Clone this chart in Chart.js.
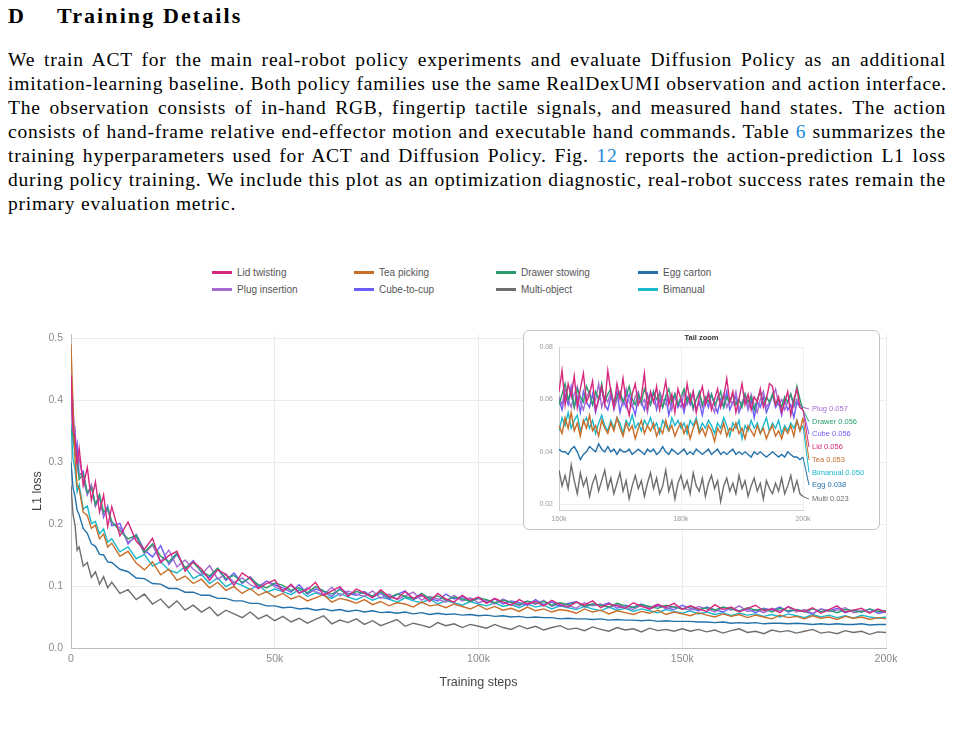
<!DOCTYPE html>
<html>
<head>
    <meta charset="utf-8">
    <title>Training Details</title>
    <script src="https://cdn.jsdelivr.net/npm/chart.js"></script>
    <style>
        body {
            margin: 0;
            width: 956px;
            height: 752px;
            position: relative;
            overflow: hidden;
            background: #fff;
        }
        h2 {
            position: absolute;
            left: 8px;
            top: 3px;
            margin: 0;
            font: bold 22px/26px "Liberation Serif", serif;
            color: #000;
        }
        h2 .t {
            position: absolute;
            left: 49px;
            white-space: nowrap;
            letter-spacing: 2.1px;
        }
        .para {
            position: absolute;
            left: 8px;
            top: 48px;
            width: 938px;
            font: 19.5px/24px "Liberation Serif", serif;
            letter-spacing: 0.8px;
            color: #000;
        }
        .para div {
            white-space: nowrap;
            text-align: justify;
            text-align-last: justify;
        }
        .para div.last {
            text-align-last: left;
        }
        .para a {
            color: #1c8ad8;
            text-decoration: none;
        }
        .legend {
            position: absolute;
            left: 212px;
            top: 264px;
            display: grid;
            grid-template-columns: repeat(4, 142px);
            font: 10px "Liberation Sans", Arial, sans-serif;
            color: #555;
        }
        .legend span.item {
            display: flex;
            align-items: center;
            height: 17px;
        }
        .legend i {
            display: inline-block;
            width: 20px;
            height: 3px;
            margin-right: 5px;
        }
        .main {
            position: absolute;
            left: 0;
            top: 320px;
        }
        .inset {
            position: absolute;
            left: 523px;
            top: 330px;
            width: 357px;
            height: 200px;
            box-sizing: border-box;
            border: 1px solid #c4c4c4;
            border-radius: 6px;
            background: #fff;
        }
        .inset .title {
            position: absolute;
            left: 0;
            right: 0;
            top: 2px;
            text-align: center;
            font: bold 7.5px "Liberation Sans", Arial, sans-serif;
            color: #333;
        }
        .inset canvas {
            position: absolute;
            left: 0;
            top: 0;
        }
    </style>
</head>
<body>
    <h2><span>D</span><span class="t">Training Details</span></h2>
    <div class="para">
        <div>We train ACT for the main real-robot policy experiments and evaluate Diffusion Policy as an additional</div>
        <div>imitation-learning baseline. Both policy families use the same RealDexUMI observation and action interface.</div>
        <div>The observation consists of in-hand RGB, fingertip tactile signals, and measured hand states. The action</div>
        <div>consists of hand-frame relative end-effector motion and executable hand commands. Table <a>6</a> summarizes the</div>
        <div>training hyperparameters used for ACT and Diffusion Policy. Fig. <a>12</a> reports the action-prediction L1 loss</div>
        <div>during policy training. We include this plot as an optimization diagnostic, real-robot success rates remain the</div>
        <div class="last">primary evaluation metric.</div>
    </div>

    <div class="legend" id="legend"></div>

    <canvas class="main" id="lossChart" width="956" height="380"></canvas>

    <div class="inset">
        <div class="title">Tail zoom</div>
        <canvas id="tailChart" width="355" height="198"></canvas>
    </div>

    <script>
        // 训练步数 (主图)
        const steps = [0, 500, 1000, 1500, 2000, 3000, 4000, 5000, 6000, 7000, 8000, 9000, 10000,
            12000, 14000, 16000, 18000, 20000, 22000, 24000, 26000, 28000, 30000, 32000, 34000, 36000, 38000, 40000, 42000, 44000, 46000, 48000, 50000,
            52000, 54000, 56000, 58000, 60000, 62000, 64000, 66000, 68000, 70000,
            72000, 74000, 76000, 78000, 80000, 82000, 84000, 86000, 88000, 90000, 92000, 94000, 96000, 98000, 100000,
            102000, 104000, 106000, 108000, 110000, 112000, 114000, 116000, 118000, 120000, 122000, 124000, 126000, 128000, 130000,
            132000, 134000, 136000, 138000, 140000, 142000, 144000, 146000, 148000, 150000,
            152000, 154000, 156000, 158000, 160000, 162000, 164000, 166000, 168000, 170000, 172000, 174000, 176000, 178000, 180000,
            182000, 184000, 186000, 188000, 190000, 192000, 194000, 196000, 198000, 200000];

        const lidTwisting = [0.440, 0.352, 0.341, 0.296, 0.322, 0.262, 0.291, 0.238, 0.268, 0.219, 0.247, 0.196, 0.228,
            0.181, 0.203, 0.172, 0.159, 0.177, 0.138, 0.149, 0.156, 0.124, 0.139, 0.128, 0.109, 0.126, 0.119, 0.101, 0.121, 0.112, 0.096, 0.104, 0.110,
            0.091, 0.103, 0.089, 0.094, 0.106, 0.085, 0.092, 0.099, 0.083, 0.095,
            0.089, 0.081, 0.094, 0.083, 0.079, 0.091, 0.080, 0.086, 0.075, 0.088, 0.079, 0.074, 0.085, 0.077, 0.082,
            0.072, 0.080, 0.074, 0.069, 0.078, 0.071, 0.075, 0.068, 0.077, 0.070, 0.066, 0.074, 0.069, 0.076, 0.065, 0.071, 0.068, 0.064, 0.073, 0.067, 0.063, 0.070, 0.066, 0.072, 0.062,
            0.068, 0.063, 0.059, 0.070, 0.062, 0.066, 0.058, 0.064, 0.069, 0.060, 0.063, 0.057, 0.067, 0.061, 0.059, 0.065, 0.056, 0.062, 0.068, 0.058, 0.061, 0.064, 0.056, 0.063, 0.058];

        const teaPicking = [0.490, 0.388, 0.305, 0.262, 0.257, 0.219, 0.214, 0.193, 0.198, 0.176, 0.184, 0.163, 0.169,
            0.148, 0.156, 0.137, 0.126, 0.139, 0.118, 0.127, 0.109, 0.116, 0.104, 0.111, 0.097, 0.106, 0.093, 0.099, 0.088, 0.096, 0.085, 0.091, 0.082,
            0.088, 0.079, 0.084, 0.076, 0.081, 0.086, 0.074, 0.080, 0.077, 0.072,
            0.078, 0.070, 0.075, 0.068, 0.073, 0.071, 0.066, 0.074, 0.068, 0.070, 0.065, 0.071, 0.067, 0.063, 0.069,
            0.062, 0.067, 0.061, 0.064, 0.059, 0.066, 0.060, 0.063, 0.058, 0.062, 0.060, 0.056, 0.063, 0.058, 0.061, 0.055, 0.060, 0.057, 0.054, 0.059, 0.056, 0.061, 0.054, 0.058, 0.055,
            0.052, 0.057, 0.053, 0.050, 0.055, 0.051, 0.054, 0.049, 0.053, 0.050, 0.047, 0.053, 0.049, 0.051, 0.047, 0.052, 0.048, 0.050, 0.046, 0.051, 0.048, 0.050, 0.046, 0.049, 0.047];

        const drawerStowing = [0.352, 0.341, 0.312, 0.305, 0.272, 0.281, 0.251, 0.259, 0.232, 0.248, 0.219, 0.226, 0.204,
            0.189, 0.176, 0.182, 0.154, 0.168, 0.148, 0.139, 0.153, 0.129, 0.138, 0.124, 0.116, 0.129, 0.112, 0.117, 0.106, 0.113, 0.102, 0.097, 0.105,
            0.101, 0.093, 0.097, 0.089, 0.099, 0.092, 0.087, 0.094, 0.085, 0.091,
            0.088, 0.084, 0.091, 0.081, 0.087, 0.083, 0.079, 0.088, 0.080, 0.084, 0.077, 0.082, 0.079, 0.075, 0.081,
            0.078, 0.073, 0.077, 0.074, 0.070, 0.076, 0.072, 0.075, 0.069, 0.073, 0.070, 0.074, 0.067, 0.071, 0.069, 0.066, 0.072, 0.068, 0.065, 0.070, 0.067, 0.064, 0.069, 0.066, 0.063,
            0.067, 0.062, 0.065, 0.061, 0.066, 0.063, 0.059, 0.065, 0.061, 0.063, 0.058, 0.064, 0.060, 0.062, 0.058, 0.063, 0.059, 0.061, 0.057, 0.062, 0.060, 0.058, 0.063, 0.059, 0.060];

        const eggCarton = [0.300, 0.258, 0.244, 0.222, 0.215, 0.193, 0.185, 0.168, 0.164, 0.151, 0.150, 0.139, 0.138,
            0.127, 0.123, 0.113, 0.112, 0.104, 0.103, 0.096, 0.096, 0.090, 0.090, 0.085, 0.085, 0.080, 0.080, 0.076, 0.076, 0.072, 0.072, 0.068, 0.068,
            0.065, 0.066, 0.063, 0.064, 0.061, 0.063, 0.060, 0.062, 0.059, 0.061,
            0.058, 0.060, 0.057, 0.058, 0.056, 0.058, 0.055, 0.057, 0.054, 0.056, 0.054, 0.055, 0.053, 0.054, 0.052,
            0.053, 0.051, 0.052, 0.050, 0.051, 0.049, 0.050, 0.049, 0.049, 0.047, 0.048, 0.047, 0.047, 0.046, 0.047, 0.045, 0.046, 0.045, 0.045, 0.044, 0.045, 0.043, 0.044, 0.043, 0.043,
            0.043, 0.042, 0.042, 0.041, 0.042, 0.040, 0.041, 0.040, 0.041, 0.039, 0.040, 0.040, 0.039, 0.040, 0.039, 0.038, 0.039, 0.038, 0.039, 0.038, 0.038, 0.039, 0.037, 0.038, 0.038];

        const plugInsertion = [0.405, 0.338, 0.352, 0.287, 0.306, 0.271, 0.248, 0.263, 0.229, 0.242, 0.214, 0.223, 0.201,
            0.194, 0.171, 0.179, 0.152, 0.166, 0.139, 0.158, 0.131, 0.142, 0.127, 0.118, 0.133, 0.111, 0.119, 0.106, 0.113, 0.102, 0.096, 0.108, 0.099,
            0.093, 0.101, 0.088, 0.097, 0.091, 0.086, 0.098, 0.084, 0.092, 0.087,
            0.083, 0.092, 0.080, 0.087, 0.078, 0.084, 0.090, 0.077, 0.083, 0.079, 0.074, 0.085, 0.076, 0.081, 0.073,
            0.077, 0.071, 0.079, 0.073, 0.068, 0.075, 0.070, 0.077, 0.067, 0.072, 0.069, 0.064, 0.073, 0.068, 0.071, 0.065, 0.070, 0.066, 0.062, 0.069, 0.065, 0.071, 0.063, 0.067, 0.064,
            0.061, 0.067, 0.063, 0.058, 0.065, 0.061, 0.068, 0.059, 0.062, 0.057, 0.064, 0.060, 0.066, 0.058, 0.062, 0.056, 0.063, 0.059, 0.061, 0.065, 0.057, 0.060, 0.058, 0.062, 0.057];

        const cubeToCup = [0.440, 0.392, 0.318, 0.331, 0.278, 0.285, 0.247, 0.262, 0.229, 0.246, 0.211, 0.229, 0.197,
            0.201, 0.168, 0.183, 0.158, 0.147, 0.165, 0.135, 0.151, 0.128, 0.141, 0.122, 0.113, 0.128, 0.109, 0.121, 0.104, 0.115, 0.099, 0.108, 0.102,
            0.097, 0.090, 0.102, 0.087, 0.095, 0.091, 0.083, 0.096, 0.088, 0.085,
            0.091, 0.082, 0.088, 0.079, 0.086, 0.092, 0.078, 0.084, 0.080, 0.076, 0.087, 0.079, 0.083, 0.075, 0.080,
            0.074, 0.079, 0.071, 0.076, 0.073, 0.069, 0.078, 0.070, 0.074, 0.067, 0.072, 0.075, 0.066, 0.071, 0.068, 0.073, 0.064, 0.069, 0.066, 0.071, 0.063, 0.068, 0.065, 0.062, 0.069,
            0.064, 0.060, 0.066, 0.062, 0.058, 0.065, 0.060, 0.063, 0.057, 0.064, 0.061, 0.066, 0.058, 0.062, 0.059, 0.055, 0.063, 0.060, 0.064, 0.057, 0.061, 0.058, 0.063, 0.056, 0.058];

        const multiObject = [0.262, 0.215, 0.198, 0.158, 0.163, 0.132, 0.138, 0.114, 0.123, 0.103, 0.115, 0.097, 0.106,
            0.088, 0.094, 0.078, 0.087, 0.071, 0.079, 0.065, 0.076, 0.061, 0.069, 0.058, 0.066, 0.052, 0.061, 0.055, 0.049, 0.058, 0.047, 0.053, 0.044,
            0.051, 0.042, 0.048, 0.040, 0.046, 0.052, 0.039, 0.045, 0.041, 0.047,
            0.038, 0.044, 0.036, 0.041, 0.046, 0.035, 0.040, 0.037, 0.033, 0.041, 0.036, 0.039, 0.033, 0.038, 0.035,
            0.032, 0.038, 0.033, 0.030, 0.036, 0.031, 0.035, 0.029, 0.033, 0.036, 0.030, 0.032, 0.028, 0.034, 0.030, 0.027, 0.033, 0.029, 0.031, 0.026, 0.032, 0.028, 0.030, 0.027, 0.031,
            0.027, 0.030, 0.026, 0.029, 0.024, 0.028, 0.031, 0.025, 0.027, 0.023, 0.029, 0.026, 0.028, 0.024, 0.027, 0.030, 0.024, 0.026, 0.023, 0.028, 0.025, 0.027, 0.022, 0.026, 0.025];

        const bimanual = [0.362, 0.305, 0.288, 0.252, 0.263, 0.224, 0.229, 0.201, 0.204, 0.184, 0.192, 0.171, 0.176,
            0.155, 0.163, 0.144, 0.151, 0.132, 0.139, 0.126, 0.121, 0.131, 0.112, 0.119, 0.104, 0.113, 0.099, 0.106, 0.101, 0.094, 0.102, 0.090, 0.095,
            0.091, 0.086, 0.094, 0.083, 0.089, 0.085, 0.080, 0.088, 0.082, 0.078,
            0.084, 0.077, 0.082, 0.079, 0.074, 0.081, 0.076, 0.073, 0.079, 0.071, 0.076, 0.073, 0.069, 0.075, 0.071,
            0.068, 0.073, 0.067, 0.070, 0.065, 0.071, 0.066, 0.069, 0.063, 0.068, 0.065, 0.062, 0.067, 0.063, 0.060, 0.066, 0.061, 0.064, 0.059, 0.063, 0.060, 0.057, 0.062, 0.059, 0.056,
            0.060, 0.055, 0.058, 0.054, 0.057, 0.052, 0.056, 0.053, 0.055, 0.051, 0.054, 0.050, 0.055, 0.052, 0.049, 0.054, 0.050, 0.053, 0.049, 0.052, 0.048, 0.053, 0.050, 0.048, 0.050];

        // 尾部放大 (160k - 200k)
        const tailSteps = [160000, 160500, 161000, 161500, 162000, 162500, 163000, 163500, 164000, 164500,
            165000, 165500, 166000, 166500, 167000, 167500, 168000, 168500, 169000, 169500,
            170000, 170500, 171000, 171500, 172000, 172500, 173000, 173500, 174000, 174500,
            175000, 175500, 176000, 176500, 177000, 177500, 178000, 178500, 179000, 179500,
            180000, 180500, 181000, 181500, 182000, 182500, 183000, 183500, 184000, 184500,
            185000, 185500, 186000, 186500, 187000, 187500, 188000, 188500, 189000, 189500,
            190000, 190500, 191000, 191500, 192000, 192500, 193000, 193500, 194000, 194500,
            195000, 195500, 196000, 196500, 197000, 197500, 198000, 198500, 199000, 199500,
            200000];

        const tailLid = [0.063, 0.071, 0.058, 0.066, 0.061, 0.069, 0.057, 0.064, 0.070, 0.059,
            0.062, 0.067, 0.056, 0.060, 0.065, 0.058, 0.071, 0.063, 0.057, 0.066,
            0.060, 0.068, 0.059, 0.054, 0.062, 0.066, 0.058, 0.061, 0.070, 0.057,
            0.063, 0.059, 0.065, 0.056, 0.061, 0.067, 0.058, 0.062, 0.055, 0.064,
            0.060, 0.057, 0.066, 0.059, 0.063, 0.055, 0.061, 0.065, 0.058, 0.062,
            0.056, 0.060, 0.064, 0.057, 0.061, 0.068, 0.059, 0.063, 0.055, 0.060,
            0.066, 0.058, 0.062, 0.056, 0.061, 0.059, 0.064, 0.057, 0.060, 0.066,
            0.065, 0.058, 0.061, 0.055, 0.059, 0.063, 0.054, 0.060, 0.064, 0.057,
            0.056];

        const tailTea = [0.050, 0.047, 0.053, 0.049, 0.055, 0.048, 0.051, 0.046, 0.052, 0.049,
            0.054, 0.048, 0.050, 0.046, 0.052, 0.049, 0.047, 0.051, 0.048, 0.053,
            0.049, 0.046, 0.051, 0.048, 0.050, 0.045, 0.049, 0.052, 0.047, 0.050,
            0.048, 0.051, 0.046, 0.049, 0.047, 0.052, 0.048, 0.050, 0.046, 0.049,
            0.051, 0.047, 0.050, 0.045, 0.049, 0.052, 0.047, 0.049, 0.046, 0.050,
            0.048, 0.044, 0.049, 0.047, 0.051, 0.046, 0.049, 0.048, 0.051, 0.047,
            0.049, 0.045, 0.050, 0.048, 0.046, 0.050, 0.047, 0.049, 0.045, 0.048,
            0.050, 0.046, 0.048, 0.045, 0.049, 0.047, 0.050, 0.046, 0.052, 0.048,
            0.053];

        const tailDrawer = [0.058, 0.062, 0.066, 0.060, 0.063, 0.057, 0.064, 0.061, 0.059, 0.065,
            0.062, 0.058, 0.063, 0.060, 0.066, 0.059, 0.062, 0.064, 0.058, 0.061,
            0.063, 0.059, 0.061, 0.065, 0.060, 0.058, 0.062, 0.059, 0.064, 0.061,
            0.058, 0.063, 0.060, 0.062, 0.057, 0.061, 0.064, 0.059, 0.062, 0.058,
            0.061, 0.064, 0.059, 0.062, 0.057, 0.060, 0.063, 0.058, 0.061, 0.059,
            0.062, 0.058, 0.060, 0.063, 0.057, 0.061, 0.059, 0.062, 0.058, 0.060,
            0.057, 0.062, 0.059, 0.061, 0.056, 0.060, 0.063, 0.058, 0.061, 0.059,
            0.062, 0.058, 0.060, 0.057, 0.061, 0.059, 0.062, 0.058, 0.065, 0.060,
            0.056];

        const tailEgg = [0.041, 0.040, 0.040, 0.039, 0.041, 0.042, 0.040, 0.037, 0.039, 0.040,
            0.042, 0.041, 0.040, 0.043, 0.041, 0.040, 0.042, 0.040, 0.041, 0.039,
            0.041, 0.040, 0.040, 0.041, 0.039, 0.040, 0.041, 0.040, 0.039, 0.041,
            0.040, 0.041, 0.039, 0.040, 0.042, 0.040, 0.039, 0.041, 0.040, 0.039,
            0.040, 0.041, 0.039, 0.040, 0.039, 0.041, 0.040, 0.039, 0.040, 0.041,
            0.039, 0.040, 0.041, 0.039, 0.040, 0.039, 0.040, 0.041, 0.039, 0.040,
            0.039, 0.040, 0.039, 0.038, 0.040, 0.039, 0.040, 0.039, 0.038, 0.039,
            0.040, 0.039, 0.038, 0.039, 0.038, 0.040, 0.039, 0.038, 0.038, 0.037,
            0.038];

        const tailPlug = [0.061, 0.058, 0.064, 0.060, 0.057, 0.062, 0.065, 0.059, 0.056, 0.061,
            0.063, 0.058, 0.060, 0.066, 0.057, 0.061, 0.059, 0.063, 0.056, 0.060,
            0.062, 0.058, 0.064, 0.059, 0.057, 0.061, 0.063, 0.058, 0.060, 0.055,
            0.062, 0.059, 0.057, 0.063, 0.060, 0.058, 0.061, 0.056, 0.062, 0.059,
            0.057, 0.063, 0.058, 0.061, 0.056, 0.060, 0.062, 0.057, 0.059, 0.063,
            0.058, 0.055, 0.061, 0.059, 0.062, 0.057, 0.060, 0.058, 0.063, 0.056,
            0.059, 0.061, 0.057, 0.062, 0.058, 0.055, 0.060, 0.063, 0.057, 0.059,
            0.061, 0.064, 0.058, 0.060, 0.056, 0.059, 0.062, 0.057, 0.060, 0.058,
            0.057];

        const tailCube = [0.060, 0.056, 0.062, 0.058, 0.065, 0.057, 0.061, 0.055, 0.063, 0.059,
            0.057, 0.062, 0.055, 0.060, 0.064, 0.058, 0.056, 0.061, 0.059, 0.063,
            0.055, 0.060, 0.057, 0.062, 0.058, 0.054, 0.061, 0.059, 0.056, 0.062,
            0.058, 0.063, 0.056, 0.060, 0.057, 0.061, 0.054, 0.059, 0.062, 0.057,
            0.060, 0.055, 0.061, 0.058, 0.063, 0.056, 0.059, 0.054, 0.060, 0.057,
            0.062, 0.058, 0.055, 0.060, 0.057, 0.063, 0.056, 0.059, 0.061, 0.055,
            0.058, 0.062, 0.056, 0.060, 0.053, 0.059, 0.057, 0.061, 0.055, 0.058,
            0.062, 0.057, 0.059, 0.054, 0.060, 0.056, 0.058, 0.053, 0.059, 0.057,
            0.056];

        const tailMulti = [0.033, 0.027, 0.031, 0.026, 0.035, 0.029, 0.024, 0.032, 0.027, 0.030,
            0.023, 0.028, 0.031, 0.025, 0.029, 0.033, 0.026, 0.030, 0.024, 0.028,
            0.032, 0.025, 0.029, 0.022, 0.027, 0.031, 0.026, 0.029, 0.023, 0.028,
            0.032, 0.026, 0.030, 0.024, 0.027, 0.033, 0.025, 0.029, 0.022, 0.028,
            0.031, 0.026, 0.029, 0.024, 0.032, 0.027, 0.025, 0.030, 0.023, 0.028,
            0.031, 0.026, 0.029, 0.021, 0.027, 0.030, 0.025, 0.028, 0.024, 0.031,
            0.026, 0.029, 0.023, 0.027, 0.030, 0.025, 0.028, 0.022, 0.029, 0.026,
            0.024, 0.028, 0.025, 0.030, 0.024, 0.027, 0.031, 0.025, 0.029, 0.024,
            0.023];

        const tailBimanual = [0.048, 0.053, 0.050, 0.055, 0.049, 0.052, 0.054, 0.048, 0.051, 0.053,
            0.049, 0.052, 0.047, 0.051, 0.054, 0.050, 0.048, 0.052, 0.049, 0.053,
            0.051, 0.047, 0.052, 0.050, 0.054, 0.049, 0.051, 0.048, 0.052, 0.050,
            0.053, 0.049, 0.051, 0.047, 0.052, 0.050, 0.048, 0.053, 0.050, 0.052,
            0.049, 0.051, 0.047, 0.052, 0.050, 0.053, 0.048, 0.051, 0.049, 0.052,
            0.050, 0.047, 0.051, 0.049, 0.053, 0.050, 0.046, 0.051, 0.049, 0.052,
            0.045, 0.050, 0.048, 0.052, 0.049, 0.051, 0.047, 0.050, 0.053, 0.048,
            0.051, 0.049, 0.052, 0.047, 0.050, 0.048, 0.051, 0.049, 0.052, 0.048,
            0.050];

        // 图例名 / 尾部标签
        const seriesNames = ['Lid twisting', 'Tea picking', 'Drawer stowing', 'Egg carton',
                             'Plug insertion', 'Cube-to-cup', 'Multi-object', 'Bimanual'];
        const tailNames = ['Lid', 'Tea', 'Drawer', 'Egg', 'Plug', 'Cube', 'Multi', 'Bimanual'];
        const tailFinal = [0.0558, 0.0531, 0.0562, 0.0381, 0.0573, 0.0560, 0.0229, 0.0502];

        const colors = ['#d6287d', '#c96d28', '#2a9d6c', '#2471aa', '#a46bd1', '#6b5cf6', '#6e6e6e', '#1bb8cc'];
        const mainData = [lidTwisting, teaPicking, drawerStowing, eggCarton, plugInsertion, cubeToCup, multiObject, bimanual];
        const tailData = [tailLid, tailTea, tailDrawer, tailEgg, tailPlug, tailCube, tailMulti, tailBimanual];

        // HTML 图例
        const legendEl = document.getElementById('legend');
        seriesNames.forEach((name, i) => {
            const item = document.createElement('span');
            item.className = 'item';
            item.innerHTML = '<i style="background:' + colors[i] + '"></i>' + name;
            legendEl.appendChild(item);
        });

        const fmtK = v => v === 0 ? '0' : (v / 1000) + 'k';
        const onGrid = step => axis => {
            axis.ticks = axis.ticks.filter(t => Math.abs(t.value / step - Math.round(t.value / step)) < 1e-6
                && t.value >= axis.min - 1e-9 && t.value <= axis.max + 1e-9);
        };

        // 主图
        new Chart(document.getElementById('lossChart'), {
            type: 'line',
            data: {
                datasets: mainData.map((vals, i) => ({
                    label: seriesNames[i],
                    data: steps.map((s, j) => ({ x: s, y: vals[j] })),
                    borderColor: colors[i],
                    backgroundColor: colors[i],
                    borderWidth: 1.4,
                    pointRadius: 0,
                    tension: 0
                }))
            },
            options: {
                responsive: false,
                animation: false,
                layout: { padding: { left: 20, right: 70, top: 10, bottom: 0 } },
                plugins: {
                    legend: { display: false },
                    tooltip: { enabled: false }
                },
                scales: {
                    x: {
                        type: 'linear',
                        min: 0,
                        max: 200000,
                        afterFit: axis => { axis.height = 52; },
                        ticks: { stepSize: 50000, padding: 5, maxRotation: 0, color: '#8a8a8a',
                                 font: { size: 10.5, family: 'Liberation Sans' }, callback: fmtK },
                        grid: { color: '#ececec', drawTicks: false },
                        border: { color: '#bdbdbd' },
                        title: { display: true, text: 'Training steps', color: '#444', padding: 10,
                                 font: { size: 12.5, family: 'Liberation Sans' } }
                    },
                    y: {
                        min: 0,
                        max: 0.506,
                        afterFit: axis => { axis.width = 51; },
                        afterBuildTicks: onGrid(0.1),
                        ticks: { stepSize: 0.1, includeBounds: false, padding: 8, color: '#8a8a8a',
                                 font: { size: 10.5, family: 'Liberation Sans' }, callback: v => v.toFixed(1) },
                        grid: { color: '#ececec', drawTicks: false },
                        border: { color: '#bdbdbd' },
                        title: { display: true, text: 'L1 loss', color: '#444', padding: 10,
                                 font: { size: 12.5, family: 'Liberation Sans' } }
                    }
                }
            }
        });

        // 尾部标签 + 连线
        const tailLabels = {
            id: 'tailLabels',
            afterDatasetsDraw(chart) {
                const { ctx, scales: { x, y } } = chart;
                const order = tailFinal.map((v, i) => i).sort((a, b) => tailFinal[b] - tailFinal[a]);
                let prev = -Infinity;
                ctx.save();
                ctx.font = '7.5px "Liberation Sans", Arial';
                ctx.textBaseline = 'middle';
                order.forEach(i => {
                    const vals = tailData[i];
                    const lastY = y.getPixelForValue(vals[vals.length - 1]);
                    const ly = Math.max(y.getPixelForValue(tailFinal[i]) + 2.5, prev + 12.7);
                    prev = ly;
                    ctx.strokeStyle = colors[i];
                    ctx.lineWidth = 1;
                    ctx.beginPath();
                    ctx.moveTo(x.right, lastY);
                    ctx.lineTo(x.right + 6, ly);
                    ctx.stroke();
                    ctx.fillStyle = colors[i];
                    ctx.fillText(tailNames[i] + ' ' + tailFinal[i].toFixed(3), x.right + 9, ly);
                });
                ctx.restore();
            }
        };

        new Chart(document.getElementById('tailChart'), {
            type: 'line',
            data: {
                datasets: tailData.map((vals, i) => ({
                    label: tailNames[i],
                    data: tailSteps.map((s, j) => ({ x: s, y: vals[j] })),
                    borderColor: colors[i],
                    borderWidth: 1.4,
                    pointRadius: 0,
                    tension: 0
                }))
            },
            options: {
                responsive: false,
                animation: false,
                layout: { padding: { left: 0, right: 76, top: 16, bottom: 0 } },
                plugins: {
                    legend: { display: false },
                    tooltip: { enabled: false }
                },
                scales: {
                    x: {
                        type: 'linear',
                        min: 160000,
                        max: 200000,
                        afterFit: axis => { axis.height = 19; },
                        ticks: { stepSize: 20000, padding: 5, maxRotation: 0, color: '#999',
                                 font: { size: 7, family: 'Liberation Sans' }, callback: fmtK },
                        grid: { color: '#eeeeee', drawTicks: false },
                        border: { color: '#cfcfcf' }
                    },
                    y: {
                        min: 0.0178,
                        max: 0.08,
                        afterFit: axis => { axis.width = 35; },
                        afterBuildTicks: onGrid(0.02),
                        ticks: { stepSize: 0.02, includeBounds: false, padding: 6, color: '#999',
                                 font: { size: 7, family: 'Liberation Sans' }, callback: v => v.toFixed(2) },
                        grid: { color: '#eeeeee', drawTicks: false },
                        border: { color: '#cfcfcf' }
                    }
                }
            },
            plugins: [tailLabels]
        });
    </script>
</body>
</html>
